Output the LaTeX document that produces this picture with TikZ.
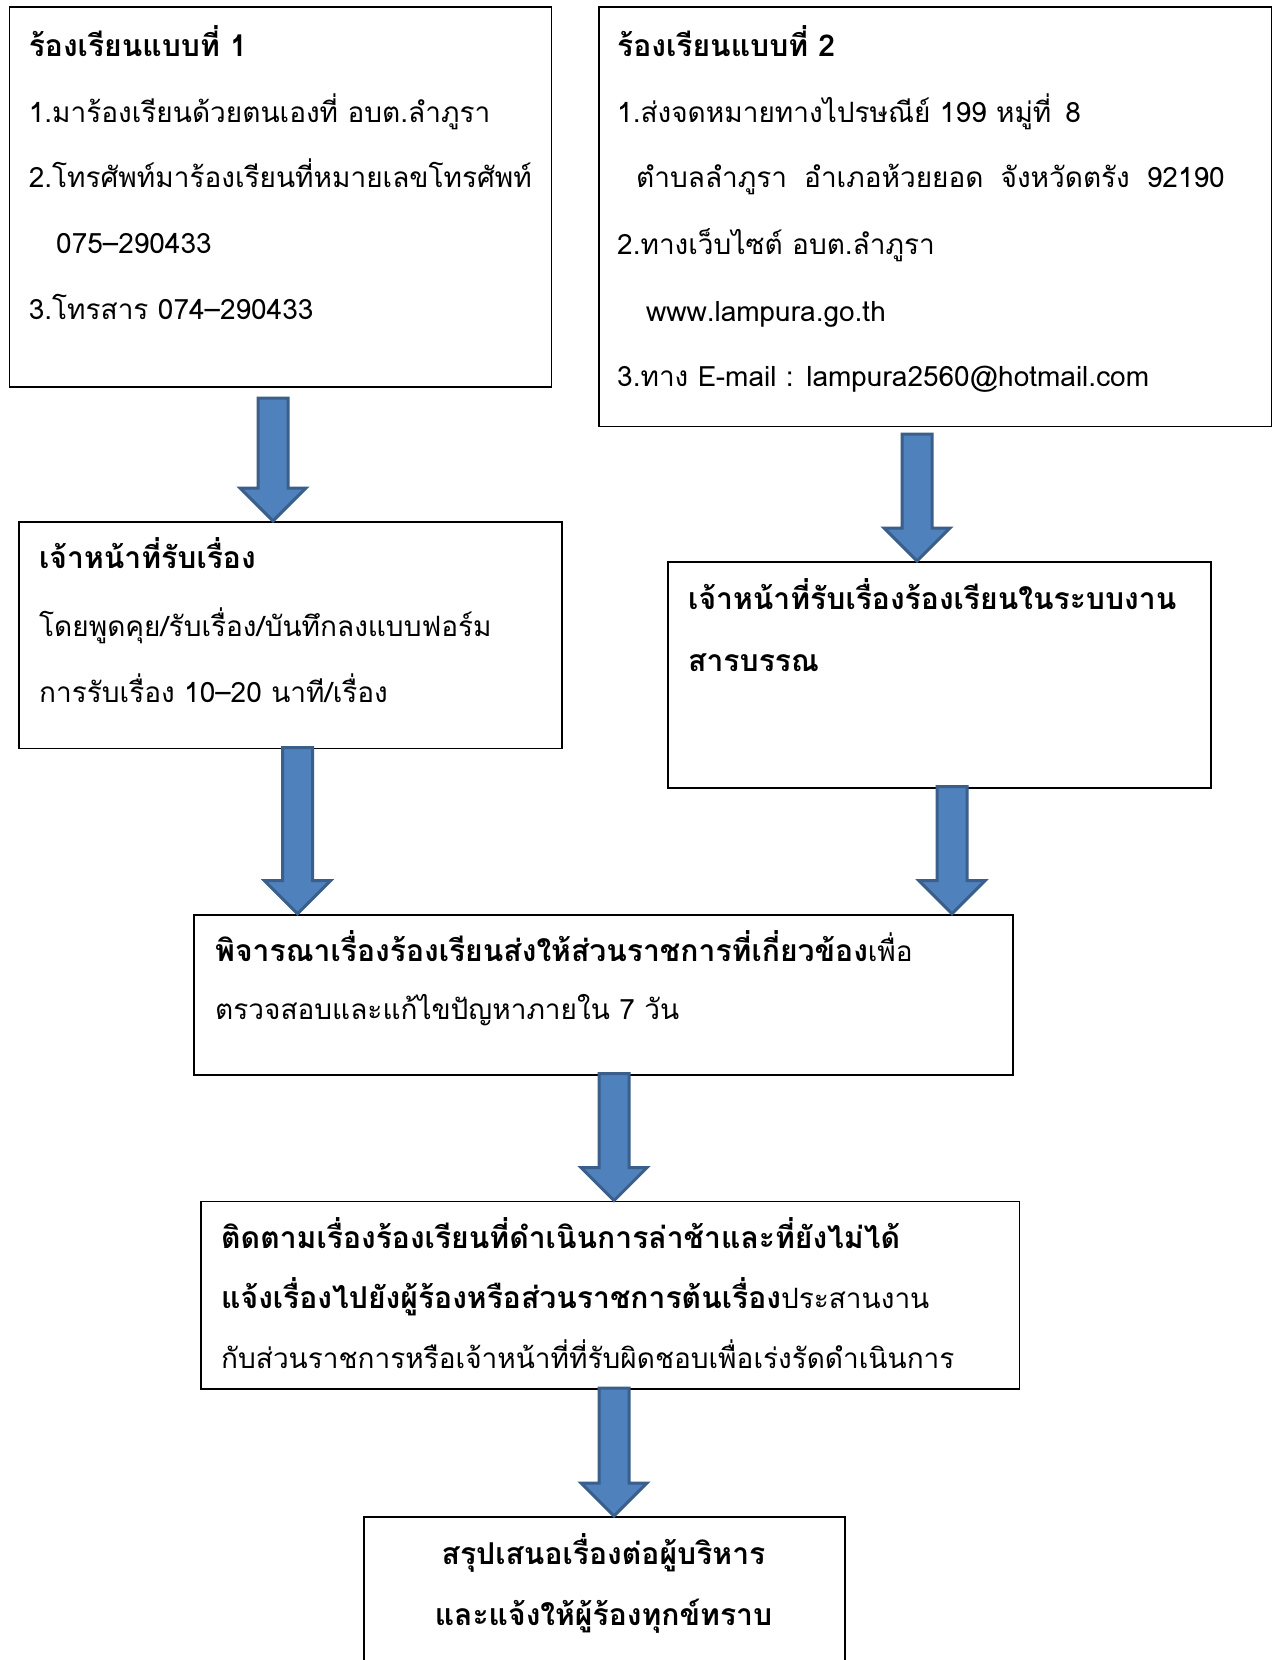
\documentclass[tikz,border=0pt]{standalone}
\usepackage{fontspec}
\newfontfamily\thaifont[Script=Thai, BoldFeatures={Scale=1.075}]{Loma}
\usetikzlibrary{calc}
\definecolor{arrowfill}{HTML}{4F81BD}
\definecolor{arrowedge}{HTML}{3A5F8B}
\tikzset{
  box/.style={draw=black, line width=1.8pt, rectangle, anchor=north west, inner sep=0pt},
  txt/.style={anchor=base west, inner sep=0pt, font=\thaifont\fontsize{28}{32}\selectfont},
  ctxt/.style={anchor=base, inner sep=0pt, font=\thaifont\bfseries\fontsize{28}{32}\selectfont},
  barrowstyle/.style={draw=arrowedge, fill=arrowfill, line width=3pt, line join=miter}
}
\newcommand\blockarrow[2]{%
  \draw[barrowstyle] ($(#1)+(-15,0)$) -- ($(#1)+(15,0)$) -- ($(#2)+(15,-33)$)
   -- ($(#2)+(33,-33)$) -- (#2) -- ($(#2)+(-33,-33)$) -- ($(#2)+(-15,-33)$) -- cycle;}
\begin{document}
\begin{tikzpicture}[x=1pt,y=-1pt]
\useasboundingbox (0,0) rectangle (1279,1660);
\fill[white] (0,0) rectangle (1279,1660);

% boxes
\node[box, minimum width=542pt, minimum height=380pt] (b1) at (8.5,6.4) {};
\node[box, minimum width=672.4pt, minimum height=419.2pt] (b2) at (598.2,6.4) {};
\node[box, minimum width=543pt, minimum height=226.5pt] (b3) at (18,521) {};
\node[box, minimum width=543pt, minimum height=225.7pt] (b4) at (667,561) {};
\node[box, minimum width=819.5pt, minimum height=160pt] (b5) at (192.7,913.7) {};
\node[box, minimum width=818.6pt, minimum height=187.4pt] (b6) at (200,1200.6) {};
\node[box, minimum width=481pt, minimum height=156pt] (b7) at (363,1516) {};

% box 1 text
\node[txt] (t11) at (28.6,56) {\bfseries ร้องเรียนแบบที่ 1};
\node[txt] (t12) at (28.6,122) {1.มาร้องเรียนด้วยตนเองที่ อบต.ลำภูรา};
\node[txt] (t13) at (28.6,187.5) {2.โทรศัพท์มาร้องเรียนที่หมายเลขโทรศัพท์};
\node[txt] (t14) at (56,253) {075–290433};
\node[txt] (t15) at (28.6,319.7) {3.โทรสาร 074–290433};

% box 2 text
\node[txt] (t21) at (617,56) {\bfseries ร้องเรียนแบบที่ 2};
\node[txt] (t22) at (617,122) {1.ส่งจดหมายทางไปรษณีย์ 199 หมู่ที่\hspace{14pt}8};
\node[txt] (t23) at (636,187.5) {ตำบลลำภูรา\hspace{17pt}อำเภอห้วยยอด\hspace{17pt}จังหวัดตรัง\hspace{17pt}92190};
\node[txt] (t24) at (617,254) {2.ทางเว็บไซต์ อบต.ลำภูรา};
\node[txt] (t25) at (646,321) {www.lampura.go.th};
\node[txt] (t26) at (617,386.5) {3.ทาง E-mail : lampura2560@hotmail.com};

% box 3 text
\node[txt] (t31) at (39,568.6) {\bfseries เจ้าหน้าที่รับเรื่อง};
\node[txt] (t32) at (39,636) {โดยพูดคุย/รับเรื่อง/บันทึกลงแบบฟอร์ม};
\node[txt] (t33) at (39,702) {การรับเรื่อง 10–20 นาที/เรื่อง};

% box 4 text
\node[txt] (t41) at (688,609) {\bfseries เจ้าหน้าที่รับเรื่องร้องเรียนในระบบงาน};
\node[txt] (t42) at (688,671) {\bfseries สารบรรณ};

% box 5 text
\node[txt] (t51) at (215,961) {{\bfseries พิจารณาเรื่องร้องเรียนส่งให้ส่วนราชการที่เกี่ยวข้อง}เพื่อ};
\node[txt] (t52) at (215,1019.6) {ตรวจสอบและแก้ไขปัญหาภายใน 7 วัน};

% box 6 text
\node[txt] (t61) at (221,1248) {\bfseries ติดตามเรื่องร้องเรียนที่ดำเนินการล่าช้าและที่ยังไม่ได้};
\node[txt] (t62) at (221,1308.7) {{\bfseries แจ้งเรื่องไปยังผู้ร้องหรือส่วนราชการต้นเรื่อง}ประสานงาน};
\node[txt] (t63) at (221,1368) {กับส่วนราชการหรือเจ้าหน้าที่ที่รับผิดชอบเพื่อเร่งรัดดำเนินการ};

% box 7 text
\node[ctxt] (t71) at (603.5,1564) {สรุปเสนอเรื่องต่อผู้บริหาร};
\node[ctxt] (t72) at (603.5,1625) {และแจ้งให้ผู้ร้องทุกข์ทราบ};

% arrows
\coordinate (a1s) at (273,398);
\coordinate (a2s) at (917,434);
\coordinate (a3s) at (297.5,747.5);
\coordinate (a4s) at (952,786.7);
\coordinate (a5s) at (614,1073.6);
\coordinate (a6s) at (614,1388);
\coordinate (a1e) at (a1s |- b3.north);
\coordinate (a2e) at (a2s |- b4.north);
\coordinate (a3e) at (a3s |- b5.north);
\coordinate (a4e) at (a4s |- b5.north);
\coordinate (a5e) at (a5s |- b6.north);
\coordinate (a6e) at (a6s |- b7.north);
\blockarrow{a1s}{a1e}
\blockarrow{a2s}{a2e}
\blockarrow{a3s}{a3e}
\blockarrow{a4s}{a4e}
\blockarrow{a5s}{a5e}
\blockarrow{a6s}{a6e}
\end{tikzpicture}
\end{document}
